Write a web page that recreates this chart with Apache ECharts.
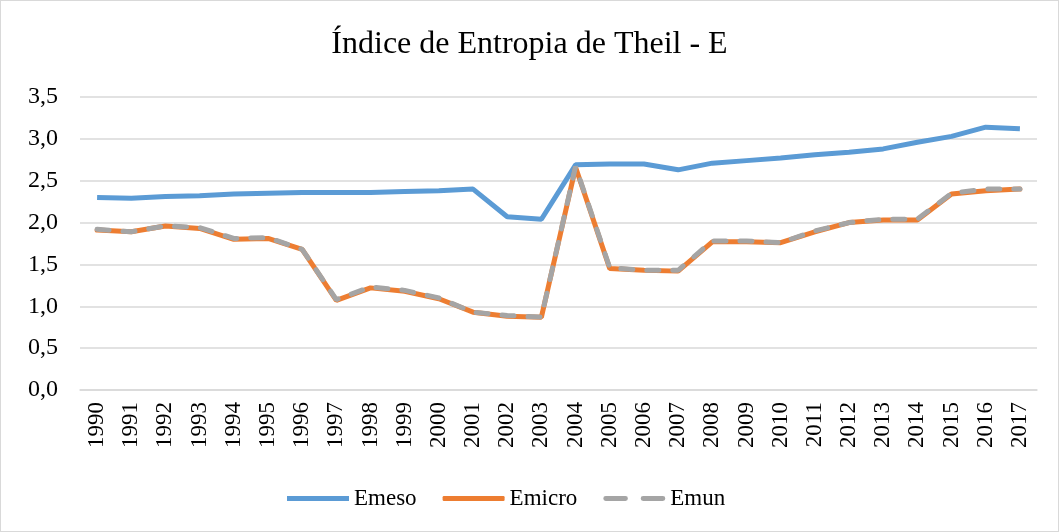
<!DOCTYPE html>
<html>
<head>
<meta charset="utf-8">
<script src="https://cdn.jsdelivr.net/npm/echarts@6/dist/echarts.min.js"></script>
<style>
  html, body { margin: 0; padding: 0; background: #fff; }
  #chart { width: 1057px; height: 530px; border: 1px solid #d9d9d9; }
</style>
</head>
<body>
<div id="chart"></div>
<script>
var anos = ['1990','1991','1992','1993','1994','1995','1996','1997','1998','1999','2000','2001','2002','2003',
  '2004','2005','2006','2007','2008','2009','2010','2011','2012','2013','2014','2015','2016','2017'];

var emeso = [2.30, 2.29, 2.31, 2.32, 2.34, 2.35, 2.36, 2.36, 2.36, 2.37, 2.38, 2.40, 2.07, 2.04,
  2.69, 2.70, 2.70, 2.63, 2.71, 2.74, 2.77, 2.81, 2.84, 2.88, 2.96, 3.03, 3.14, 3.12];

var emicro = [1.91, 1.89, 1.96, 1.93, 1.80, 1.81, 1.68, 1.07, 1.22, 1.18, 1.09, 0.93, 0.88, 0.87,
  2.66, 1.45, 1.43, 1.42, 1.77, 1.77, 1.76, 1.89, 2.00, 2.03, 2.03, 2.34, 2.38, 2.40];

var emun = [1.92, 1.89, 1.96, 1.94, 1.81, 1.82, 1.68, 1.08, 1.23, 1.19, 1.10, 0.93, 0.89, 0.87,
  2.67, 1.46, 1.43, 1.43, 1.78, 1.78, 1.76, 1.90, 2.00, 2.04, 2.04, 2.35, 2.40, 2.40];

var fonte = '"Liberation Serif", "DejaVu Serif", serif';

var chart = echarts.init(document.getElementById('chart'));
chart.setOption({
  animation: false,
  title: {
    text: 'Índice de Entropia de Theil - E',
    left: 'center',
    top: 23,
    textStyle: { fontFamily: fonte, fontSize: 32, fontWeight: 'normal', color: '#000' }
  },
  grid: { left: 79, right: 21, top: 96, bottom: 141 },
  legend: {
    bottom: 16,
    left: 281,
    itemWidth: 62,
    itemHeight: 5,
    itemGap: 26,
    textStyle: { fontFamily: fonte, fontSize: 23, color: '#000' },
    data: [
      { name: 'Emeso', icon: 'rect' },
      { name: 'Emicro', icon: 'roundRect' },
      { name: 'Emun', icon: 'path://M2,0H22A2,2,0,0,1,22,5H2A2,2,0,0,1,2,0Z M40,0H60A2,2,0,0,1,60,5H40A2,2,0,0,1,40,0Z' }
    ]
  },
  xAxis: {
    type: 'category',
    data: anos,
    axisLine: { lineStyle: { color: '#d9d9d9', width: 1.5 } },
    axisTick: { show: false },
    axisLabel: { rotate: 90, fontFamily: fonte, fontSize: 23, color: '#000', margin: 12, interval: 0 }
  },
  yAxis: {
    type: 'value',
    min: 0,
    max: 3.5,
    interval: 0.5,
    axisLine: { show: false },
    axisTick: { show: false },
    splitLine: { lineStyle: { color: '#d9d9d9', width: 1.5 } },
    axisLabel: {
      fontFamily: fonte, fontSize: 24, color: '#000', margin: 22,
      formatter: function (v) { return v.toFixed(1).replace('.', ','); }
    }
  },
  series: [
    { name: 'Emeso', type: 'line', data: emeso, symbol: 'none',
      lineStyle: { color: '#5B9BD5', width: 5 }, itemStyle: { color: '#5B9BD5' } },
    { name: 'Emicro', type: 'line', data: emicro, symbol: 'none',
      lineStyle: { color: '#ED7D31', width: 5, cap: 'round' }, itemStyle: { color: '#ED7D31' } },
    { name: 'Emun', type: 'line', data: emun, symbol: 'none',
      lineStyle: { color: '#A5A5A5', width: 5, type: [12, 14], cap: 'round' }, itemStyle: { color: '#A5A5A5' } }
  ]
});
</script>
</body>
</html>
